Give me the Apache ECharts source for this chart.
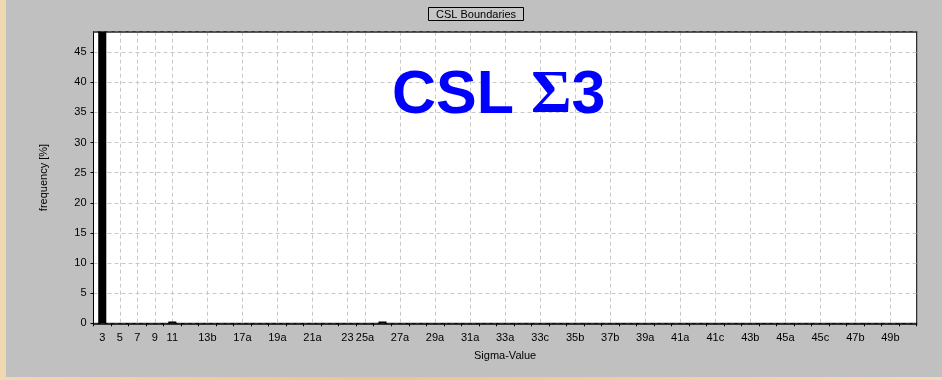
<!DOCTYPE html>
<html>
<head>
<meta charset="utf-8">
<script src="https://cdn.jsdelivr.net/npm/echarts@6/dist/echarts.min.js"></script>
<style>
  html, body { margin: 0; padding: 0; }
  body {
    width: 942px; height: 380px; overflow: hidden; position: relative;
    background: linear-gradient(90deg, #efd9b0 0%, #e4c796 40%, #f1dcb5 100%);
  }
  #chart { position: absolute; left: 6px; top: 0; width: 936px; height: 377px; }
</style>
</head>
<body>
<div id="chart"></div>
<script>
// CSL boundary types (coincidence site lattice Σ values)
const sigmaTypes = [
  '3', '5', '7', '9', '11', '13a', '13b', '15', '17a', '17b', '19a', '19b',
  '21a', '21b', '23', '25a', '25b', '27a', '27b', '29a', '29b', '31a', '31b',
  '33a', '33b', '33c', '35a', '35b', '37a', '37b', '37c', '39a', '39b',
  '41a', '41b', '41c', '43a', '43b', '43c', '45a', '45b', '45c', '47a', '47b',
  '49a', '49b', '49c'
];

// frequency [%] of each boundary type
const frequency = [
  58, 0, 0, 0, 0.3, 0, 0, 0, 0, 0, 0, 0,
  0, 0, 0, 0, 0.3, 0, 0, 0, 0, 0, 0,
  0, 0, 0, 0, 0, 0, 0, 0, 0, 0,
  0, 0, 0, 0, 0, 0, 0, 0, 0, 0, 0,
  0, 0, 0
];

// types that get a tick label
const labelledTypes = [
  '3', '5', '7', '9', '11', '13b', '17a', '19a', '21a', '23', '25a', '27a',
  '29a', '31a', '33a', '33c', '35b', '37b', '39a', '41a', '41c', '43b', '45a',
  '45c', '47b', '49b'
];

const yTicks = { min: 0, max: 48.4, step: 5 };

const shown = new Set(labelledTypes);
const showIdx = (i) => shown.has(sigmaTypes[i]);
const font = 'Liberation Sans, Arial, sans-serif';

const chart = echarts.init(document.getElementById('chart'), null, { renderer: 'canvas' });

chart.setOption({
  backgroundColor: '#c0c0c0',
  animation: false,
  title: {
    text: 'CSL Boundaries',
    left: 422, top: 7,
    padding: [2, 8, 1, 8],
    borderWidth: 1, borderColor: '#000',
    backgroundColor: '#c6c6c6',
    textStyle: { fontFamily: font, fontSize: 11, fontWeight: 'normal', color: '#000' }
  },
  grid: {
    left: 87.5, right: 25.3, top: 31.7, bottom: 53.7,
    show: true, backgroundColor: '#fff', borderColor: '#000', borderWidth: 1
  },
  xAxis: [{
    type: 'category',
    data: sigmaTypes,
    name: 'Sigma-Value',
    nameLocation: 'middle',
    nameGap: 27,
    nameTextStyle: { fontFamily: font, fontSize: 11, color: '#000' },
    axisLine: { lineStyle: { color: '#000', width: 1.5 } },
    axisTick: { show: true, interval: 0, length: 3, lineStyle: { color: '#000' } },
    axisLabel: { interval: showIdx, margin: 9, fontFamily: font, fontSize: 11, color: '#000' },
    splitLine: {
      show: true, interval: showIdx, alignWithLabel: true,
      lineStyle: { color: '#c8c8c8', type: [4, 3], width: 1 }
    }
  }, {
    // solid frame edge along the top of the plot
    type: 'category',
    data: sigmaTypes,
    position: 'top',
    axisLine: { show: true, lineStyle: { color: '#333', width: 1.5 } },
    axisTick: { show: false },
    axisLabel: { show: false },
    splitLine: { show: false }
  }],
  yAxis: {
    type: 'value',
    min: yTicks.min, max: yTicks.max, interval: yTicks.step,
    name: 'frequency [%]',
    nameLocation: 'middle',
    nameRotate: 90,
    nameGap: 44,
    nameTextStyle: { fontFamily: font, fontSize: 11, color: '#000' },
    axisLine: { show: true, lineStyle: { color: '#000' } },
    axisTick: { show: true, length: 3, lineStyle: { color: '#000' } },
    axisLabel: { showMaxLabel: false, margin: 7, fontFamily: font, fontSize: 11, color: '#000' },
    splitLine: { show: true, lineStyle: { color: '#c8c8c8', type: [4, 3], width: 1 } }
  },
  graphic: [{
    type: 'text',
    left: 386, top: 65,
    z: 100,
    style: {
      text: '{a|CSL }{b|Σ}{a|3}',
      rich: {
        a: { fontFamily: font, fontSize: 61, fontWeight: 'bold', fill: '#0000ff' },
        b: { fontFamily: 'Liberation Serif, Times New Roman, serif', fontSize: 62, fontWeight: 'bold', fill: '#0000ff' }
      }
    }
  }],
  series: [{
    type: 'bar',
    data: frequency,
    barWidth: '46%',
    clip: true,
    itemStyle: { color: '#000' }
  }]
});
</script>
</body>
</html>
